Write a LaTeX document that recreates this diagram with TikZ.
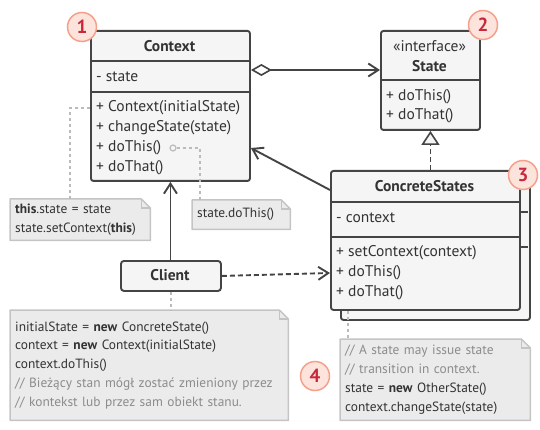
\documentclass[tikz,border=0pt]{standalone}
\usepackage{fontspec}
\setmainfont{PT Sans}
\usetikzlibrary{arrows.meta,backgrounds}

\definecolor{boxline}{HTML}{444444}
\definecolor{boxfill}{HTML}{F5F5F5}
\definecolor{txtcol}{HTML}{333333}
\definecolor{notefill}{HTML}{EBEBEB}
\definecolor{noteline}{HTML}{C4C4C4}
\definecolor{linkcol}{HTML}{BBBBBB}
\definecolor{cmtcol}{HTML}{8C8C8C}
\definecolor{badgefill}{HTML}{FCE3DC}
\definecolor{badgeline}{HTML}{F4A08A}
\definecolor{badgetxt}{HTML}{C8283C}

\tikzset{
  cls/.style={draw=boxline, fill=boxfill, line width=1.9pt, rounded corners=2.5pt, inner sep=0pt, anchor=north west},
  sep/.style={draw=boxline, line width=1.9pt},
  txt/.style={anchor=west, inner sep=0pt, align=left, text=txtcol, font=\fontsize{15.5}{20}\selectfont},
  hd/.style={inner sep=0pt, text=txtcol, font=\fontsize{15.5}{20}\selectfont\bfseries},
  conn/.style={draw=boxline, line width=1.9pt},
  barb/.style={-{Straight Barb[length=10pt,width=13pt,line width=1.9pt]}},
  notebox/.style={anchor=north west, inner xsep=5pt, inner ysep=0pt, align=left, text=txtcol, font=\fontsize{13.4}{18.75}\selectfont},
  link/.style={draw=linkcol, line width=1.5pt, dash pattern=on 3pt off 3pt},
  badge/.style={circle, draw=badgeline, fill=badgefill, line width=1.5pt, minimum size=29pt, inner sep=0pt, text=badgetxt, font=\fontsize{19}{19}\selectfont\bfseries}
}
\newcommand{\cmt}[1]{\textcolor{cmtcol}{#1}}

\begin{document}
\begin{tikzpicture}[x=1pt,y=-1pt]
            \useasboundingbox (0,0) rectangle (540,430);

            % Context
            \node[cls, minimum width=159pt, minimum height=150pt] (ctx) at (90,30) {};
            \draw[sep] (90,61) -- (249,61);
            \draw[sep] (90,92) -- (249,92);
            \node[hd] (ctxh) at (169.5,46) {Context};
            \node[txt] (ctxf) at (96,77) {- state};
            \node[txt] (ctxm) at (96,138) {+ Context(initialState)\\+ changeState(state)\\+ doThis()\\+ doThat()};
            \node[circle, draw=linkcol, line width=1.2pt, minimum size=6pt, inner sep=0pt] (dot) at (173,148) {};

            % State
            \node[cls, minimum width=99pt, minimum height=99pt] (st) at (380,30) {};
            \draw[sep] (380,80) -- (479,80);
            \node[inner sep=0pt, text=txtcol, font=\fontsize{15.5}{20}\selectfont] (sti) at (429.5,46) {«interface»};
            \node[hd] (sth) at (429.5,66) {State};
            \node[txt, font=\fontsize{15.5}{19}\selectfont] (stm) at (386,106.5) {+ doThis()\\+ doThat()};

            % ConcreteStates (two stacked)
            \node[cls, minimum width=189pt, minimum height=139pt] (cs2) at (340,180) {};
            \draw[sep] (340,212) -- (528,212);
            \draw[sep] (340,247) -- (528,247);
            \node[cls, minimum width=189pt, minimum height=139pt] (cs) at (330,170) {};
            \draw[sep] (330,202) -- (519,202);
            \draw[sep] (330,237) -- (519,237);
            \node[hd] (csh) at (424.5,186) {ConcreteStates};
            \node[txt] (csf) at (336,218) {- context};
            \node[txt] (csm) at (336,272.5) {+ setContext(context)\\+ doThis()\\+ doThat()};

            % Client
            \node[cls, minimum width=100pt, minimum height=30pt, rounded corners=3pt] (cl) at (120,260) {};
            \node[hd] (clh) at (170,275) {Client};

            % connectors
            \draw[conn, {Diamond[open,fill=white,length=21pt,width=12pt,line width=1.6pt]}-{Straight Barb[length=10pt,width=13pt,line width=1.9pt]}]
                ([yshift=-40pt]ctx.north east) -- ([yshift=-40pt]st.north west);
            \draw[conn, dash pattern=on 5pt off 3pt, -{Triangle[open,fill=boxfill,length=14pt,width=18pt,line width=1.6pt]}]
                (cs.north -| st.south) -- (st.south);
            \draw[conn, barb] ([yshift=-20pt]cs.north west) -- ([yshift=-118pt]ctx.north east);
            \draw[conn, barb] (cl.north -| ctx.south) -- (ctx.south);
            \draw[conn, barb, dash pattern=on 5pt off 3pt] (cl.east) -- ([yshift=-103pt]cs.north west);

            % notes
            \node[notebox, minimum width=140pt, minimum height=41pt, text width=130pt] (n1) at (10,199)
                {\textbf{this}.state = state\\state.setContext(\textbf{this})};
            \node[notebox, minimum width=98pt, minimum height=29pt, text width=88pt] (n2) at (192,200)
                {state.doThis()};
            \node[notebox, minimum width=278pt, minimum height=110pt, text width=268pt] (n3) at (10,310)
                {initialState = \textbf{new} ConcreteState()\\context = \textbf{new} Context(initialState)\\context.doThis()\\
                 \cmt{// Bieżący stan mógł zostać zmieniony przez}\\\cmt{// kontekst lub przez sam obiekt stanu.}};
            \node[notebox, minimum width=190pt, minimum height=81pt, text width=180pt] (n4) at (340,339)
                {\cmt{// A state may issue state}\\\cmt{// transition in context.}\\state = \textbf{new} OtherState()\\context.changeState(state)};

            \begin{scope}[on background layer]
            \foreach \n in {n1,n2,n3,n4}{
                \filldraw[draw=noteline, fill=notefill, line width=1.5pt, line join=round]
                    (\n.north west) -- ([xshift=-9pt]\n.north east) -- ([yshift=-9pt]\n.north east)
                    -- (\n.south east) -- (\n.south west) -- cycle;
                \draw[draw=noteline, line width=1.2pt] ([xshift=-9pt]\n.north east) |- ([yshift=-9pt]\n.north east);
            }
            \end{scope}

            % note links
            \draw[link] ([xshift=60pt]n1.north west) |- ([yshift=-78pt]ctx.north west);
            \draw[link] (dot.east) -| ([xshift=8pt]n2.north west);
            \draw[link] (cl.south) -- (cl.south |- n3.north);
            \draw[link] ([xshift=8pt]n4.north west |- cs.south) -- ([xshift=8pt]n4.north west);

            % badges
            \node[badge] (b1) at (82,27) {1};
            \node[badge] (b2) at (483,25) {2};
            \node[badge] (b3) at (523,175) {3};
            \node[badge] (b4) at (315,376) {4};
        \end{tikzpicture}
\end{document}
